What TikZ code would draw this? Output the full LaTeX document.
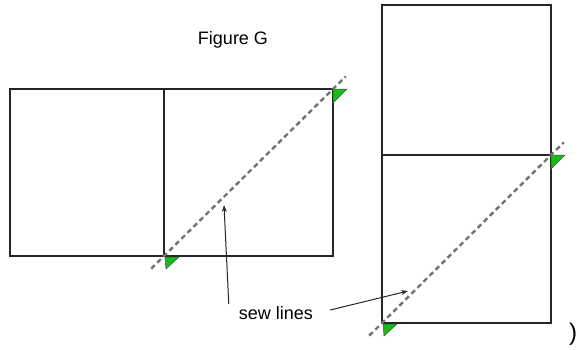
\documentclass[tikz,border=0pt]{standalone}
\usepackage{fontspec}
\setmainfont{Liberation Sans}
\definecolor{sewgreen}{RGB}{20,190,20}
\definecolor{sewgray}{RGB}{115,115,115}
\tikzset{
  patch/.style={draw=black!85, line width=1.4pt},
  sewline/.style={draw=sewgray, line width=2.4pt, dash pattern=on 5pt off 3.5pt,
                  shorten <=-18pt, shorten >=-18pt},
  marker/.style={fill=sewgreen, draw=black!70, line width=0.5pt},
  pointer/.style={draw=black!85, line width=1pt, -{Stealth[length=7pt,width=5pt]}},
  label/.style={font={\fontsize{18}{18}\selectfont}, inner sep=0pt}
}
\usetikzlibrary{arrows.meta}
\begin{document}
\begin{tikzpicture}[x=1pt,y=-1pt]

\useasboundingbox [fill=white] (0,0) rectangle (584,349);

\coordinate (l-nw) at (10,89);
\coordinate (l-mn) at (164,89);
\coordinate (l-ne) at (333,89);
\coordinate (l-sw) at (10,256);
\coordinate (l-ms) at (164,256);
\coordinate (l-se) at (333,256);

\coordinate (r-nw) at (382,5);
\coordinate (r-ne) at (551,5);
\coordinate (r-mw) at (382,155);
\coordinate (r-me) at (551,155);
\coordinate (r-sw) at (382,323);
\coordinate (r-se) at (551,323);

\draw [patch] (l-nw) rectangle (l-se);
\draw [patch] (l-mn) -- (l-ms);

\draw [patch] (r-nw) rectangle (r-se);
\draw [patch] (r-mw) -- (r-me);

\draw [sewline] (l-ms) -- (l-ne);
\draw [sewline] (r-sw) -- (r-me);

\draw [marker] (l-ne) -- ++(14,0) -- ++(-14,14) -- cycle;
\draw [marker] (l-ms) ++(1,1) -- ++(14,0) -- ++(-13,12) -- cycle;
\draw [marker] (r-me) -- ++(14,0) -- ++(-14,14) -- cycle;
\draw [marker] (r-sw) ++(1,1) -- ++(14,0) -- ++(-13,12) -- cycle;

\node [label] (title) at (233,40) {Figure G};

\node [label] (sew) at (276,313) {sew lines};

\coordinate (l-tip) at (224,205);
\coordinate (r-tip) at (408,291);

\draw [pointer] (sew.north west) ++(-10,-2) coordinate (l-from) -- (l-tip);
\draw [pointer] (sew.east) ++(17,-3) coordinate (r-from) -- (r-tip);

\node [font={\fontsize{24}{24}\selectfont}, inner sep=0pt] (paren) at (573,334) {)};

\end{tikzpicture}
\end{document}
